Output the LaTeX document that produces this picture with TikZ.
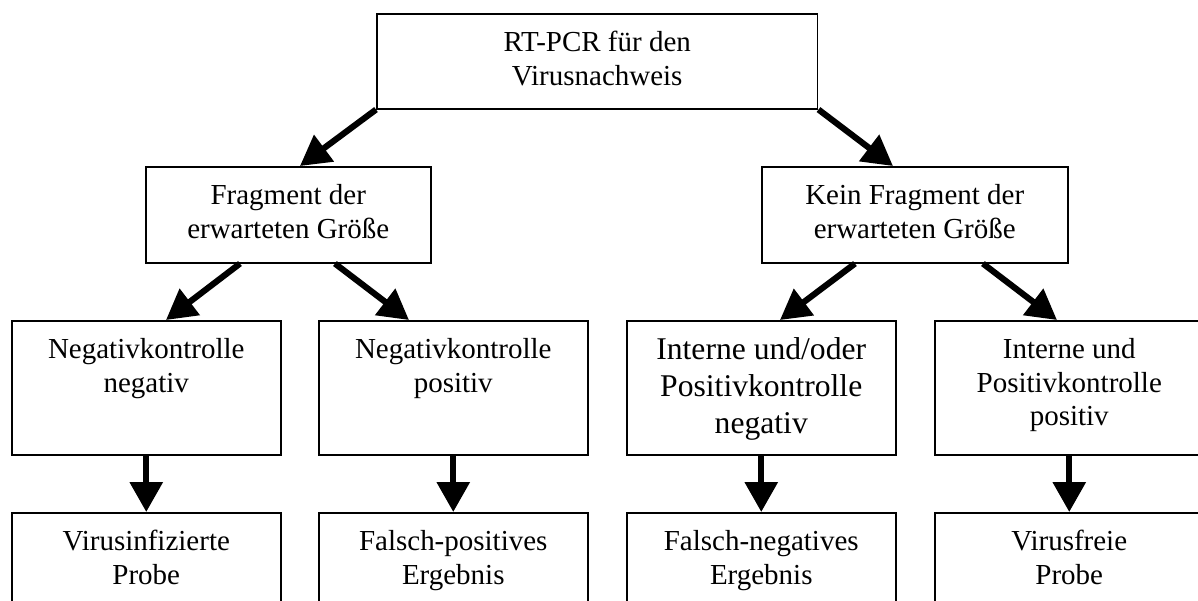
\documentclass[tikz,border=0pt]{standalone}
\usepackage{fontspec}
\setmainfont{Liberation Serif}
\usetikzlibrary{arrows.meta}
\tikzset{
  % --- boxes (text sits at the top of each box) ---------------------------
  pcrbox/.style  = {draw, line width=0.9pt, anchor=north west, inner sep=0pt,
                    font=\fontsize{16.5}{19}\selectfont, text height=0.76cm},
  ctrlbox/.style = {pcrbox, minimum width=5.38cm, text depth=1.92cm},
  resbox/.style  = {pcrbox, minimum width=5.38cm, text depth=1.44cm},
  % --- arrows ---------------------------------------------------------------
  flow/.style    = {line width=3.5pt, -{Triangle[length=0.6cm,width=0.64cm]}},
}
\newcommand{\boxtext}[1]{\parbox[t]{4.6cm}{\centering #1}}

\begin{document}
\begin{tikzpicture}[x=0.02cm, y=-0.02cm]
\clip (0,0) rectangle (1198,600);

% ============================ top level ====================================
\node[pcrbox, minimum width=8.82cm, text depth=1.14cm] (rtpcr) at (376,13)
     {\boxtext{RT-PCR für den\\Virusnachweis}};

% ============================ fragment yes / no ============================
\node[pcrbox, minimum width=5.7cm, text depth=1.16cm] (frag) at (145,166)
     {\boxtext{Fragment der\\erwarteten Größe}};
\node[pcrbox, minimum width=6.12cm, text depth=1.16cm] (nofrag) at (761,166)
     {\boxtext{Kein Fragment der\\erwarteten Größe}};

% ============================ controls =====================================
\node[ctrlbox] (negneg) at (11,320)  {\boxtext{Negativkontrolle\\negativ}};
\node[ctrlbox] (negpos) at (318,320) {\boxtext{Negativkontrolle\\positiv}};
\node[ctrlbox, font=\fontsize{18}{21}\selectfont, text height=0.78cm,
      text depth=1.9cm] (intneg) at (626,320)
     {\boxtext{Interne und/oder\\Positivkontrolle\\negativ}};
\node[ctrlbox] (intpos) at (934,320)
     {\boxtext{Interne und\\Positivkontrolle\\positiv}};

% ============================ results ======================================
\node[resbox] (infected)  at (11,512)  {\boxtext{Virusinfizierte\\Probe}};
\node[resbox] (falsepos)  at (318,512) {\boxtext{Falsch-positives\\Ergebnis}};
\node[resbox] (falseneg)  at (626,512) {\boxtext{Falsch-negatives\\Ergebnis}};
\node[resbox] (virusfree) at (934,512) {\boxtext{Virusfreie\\Probe}};

% ============================ arrows =======================================
\draw[flow] (rtpcr.south west) -- ([xshift=3.1cm]frag.north west);
\draw[flow] (rtpcr.south east) -- ([xshift=2.64cm]nofrag.north west);
\draw[flow] ([xshift=1.9cm]frag.south west)   -- ([xshift=3.1cm]negneg.north west);
\draw[flow] ([xshift=3.8cm]frag.south west)   -- ([xshift=1.82cm]negpos.north west);
\draw[flow] ([xshift=1.88cm]nofrag.south west) -- ([xshift=3.08cm]intneg.north west);
\draw[flow] ([xshift=4.44cm]nofrag.south west) -- ([xshift=2.46cm]intpos.north west);
\foreach \a/\b in {negneg/infected, negpos/falsepos, intneg/falseneg, intpos/virusfree}
  \draw[flow] (\a.south) -- (\b.north);

\end{tikzpicture}
\end{document}
